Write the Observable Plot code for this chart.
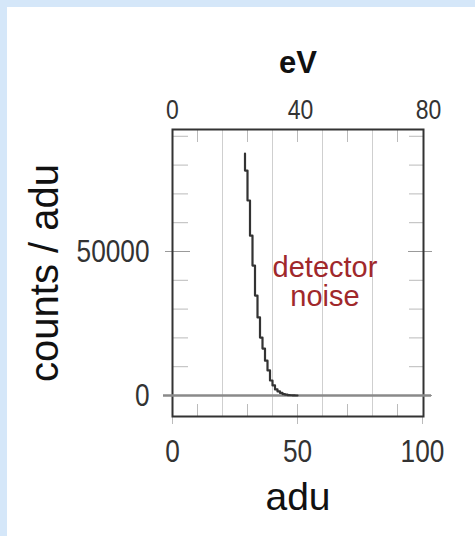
<!DOCTYPE html>
<html><head><meta charset="utf-8">
<script src="https://cdn.jsdelivr.net/npm/d3@7"></script>
<script src="https://cdn.jsdelivr.net/npm/@observablehq/plot@0.6"></script>
<style>
html,body{margin:0;padding:0;background:#d5e7f9;width:475px;height:536px;overflow:hidden}
#panel{position:absolute;left:7px;top:7px;width:468px;height:529px;background:#fff}
#panel svg{display:block}
</style></head><body><div id="panel"></div>
<script>
// histogram of detector noise: adu bin -> counts
const aduBins = [29,30,31,32,33,34,35,36,37,38,39,40,41,42,43,44,45,46,47,48,49,50];
const counts  = [84000,78100,67700,55500,45100,34700,27100,20100,16300,12100,8700,5200,3500,2100,1400,900,500,300,150,80,30,0];
const xTicks = [0, 50, 100];
const xMinor = [10, 30, 50, 70, 90];
const xGrid = [20, 40, 60, 80];
const yTicks = [0, 50000];
const yMinor = [10000, 20000, 30000, 40000, 60000, 70000, 80000, 90000];
const eVTicks = [0, 40, 80];
const eVPerAdu = 0.78125;
const notes = [{x: 61, y: 31000, text: "detector\nnoise"}];
const xLabel = "adu", yLabel = "counts / adu", topLabel = "eV";

const data = aduBins.map((a, i) => ({adu: a, counts: counts[i]}));
const sans = "'Liberation Sans',Arial,Helvetica,sans-serif";

const chart = Plot.plot({
  width: 468, height: 529,
  marginLeft: 165, marginRight: 52, marginTop: 122, marginBottom: 120,
  style: {background: "transparent", fontFamily: sans, color: "#333", overflow: "visible"},
  x: {domain: [0, 100.4]},
  y: {domain: [-7292, 92360]},
  marks: [
    Plot.ruleX(xGrid, {stroke: "#cfcfcf", strokeWidth: 1}),
    Plot.axisX({anchor: "bottom", ticks: xMinor, tickSize: -12, text: null, label: null, stroke: "#bbb"}),
    Plot.axisX({anchor: "top", ticks: xMinor, tickSize: -12, text: null, label: null, stroke: "#bbb"}),
    Plot.axisY({anchor: "left", ticks: yMinor, tickSize: -16, text: null, label: null, stroke: "#bbb"}),
    Plot.axisY({anchor: "right", ticks: yMinor, tickSize: -15, text: null, label: null, stroke: "#bbb"}),
    Plot.axisY({anchor: "left", ticks: yTicks, tickSize: -18, text: null, label: null, stroke: "#999"}),
    Plot.axisY({anchor: "right", ticks: yTicks, tickSize: -16, text: null, label: null, stroke: "#999"}),
    Plot.axisY({anchor: "right", ticks: yTicks, tickSize: 8, text: null, label: null, stroke: "#999"}),
    Plot.axisY({anchor: "left", ticks: yTicks, tickSize: 7, tickPadding: 16, tickFormat: d => String(d),
      label: null, fontSize: 32, stroke: "#999", fill: "#333"}),
    Plot.axisX({anchor: "bottom", ticks: xTicks, tickSize: 8, tickPadding: 15, tickFormat: d => String(d),
      label: null, fontSize: 32, stroke: "#bbb", fill: "#333"}),
    Plot.axisX({anchor: "top", ticks: eVTicks.map(e => e / eVPerAdu), tickSize: 0, tickPadding: 11,
      tickFormat: d => String(Math.round(d * eVPerAdu)), label: null, fontSize: 28, fill: "#333"}),
    Plot.frame({stroke: "#333", strokeWidth: 2}),
    Plot.ruleY([0], {stroke: "#8a8a8a", strokeWidth: 2.5, insetLeft: -9, insetRight: -8}),
    Plot.line(data, {x: "adu", y: "counts", curve: "step-before", stroke: "#333", strokeWidth: 2.2}),
    Plot.text(notes, {x: "x", y: "y", text: "text", fill: "#a0282b", fontSize: 29, lineAnchor: "bottom", lineHeight: 1}),
    Plot.text([topLabel], {text: d => d, frameAnchor: "top", dy: -57, lineAnchor: "bottom", textAnchor: "middle",
      fontWeight: "bold", fontSize: 31, fill: "#111"}),
    Plot.text([xLabel], {text: d => d, frameAnchor: "bottom", dy: 93, lineAnchor: "bottom", textAnchor: "middle",
      fontSize: 39, fill: "#111"}),
    Plot.text([yLabel], {text: d => d, frameAnchor: "left", dx: -115, rotate: -90, lineAnchor: "bottom",
      textAnchor: "middle", fontSize: 40, fill: "#111"})
  ]
});
// the original tick digits are condensed: narrow them horizontally around their anchor
d3.select(chart)
  .selectAll('g[aria-label="y-axis tick label"] text, g[aria-label="x-axis tick label"] text')
  .attr("transform", function() { return (this.getAttribute("transform") || "") + " scale(0.82,1)"; });
document.getElementById("panel").appendChild(chart);
</script>
</body></html>
